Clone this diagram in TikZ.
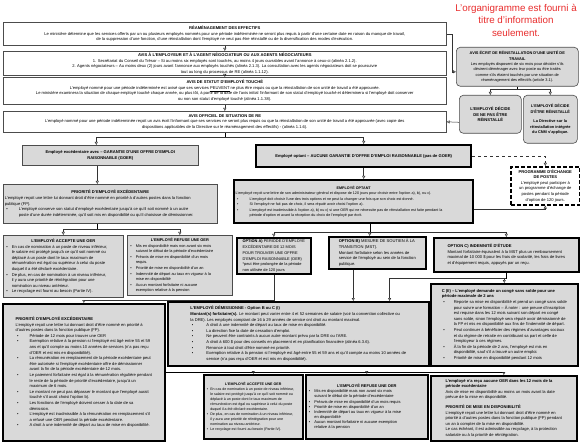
\documentclass[tikz,border=0pt]{standalone}
\usepackage{fontspec}
\setmainfont{Liberation Sans}
\usetikzlibrary{arrows.meta}
\definecolor{notered}{RGB}{232,44,44}
\newcommand{\fsz}[2]{\fontsize{#1}{#2}\selectfont}
\newcommand{\bul}[1][7]{\makebox[#1pt][l]{\hspace*{1.5pt}\textbullet}}
\newcommand{\cont}[1][7]{\hspace*{#1pt}}
\newcommand{\ttl}[2]{\makebox[#1pt][c]{\textbf{#2}}}

\begin{document}
\begin{tikzpicture}[x=1pt,y=-1pt]

\tikzset{box/.style = {draw=black!70, line width=0.6pt, anchor=north west, inner sep=1.5pt, align=center, font=\fsz{4.1}{5.6}}}
\tikzset{grey/.style = {box, fill=black!15}}
\tikzset{heavy/.style = {grey, draw=black, line width=1.6pt}}
\tikzset{heavier/.style = {grey, draw=black, line width=2.4pt}}
\tikzset{round/.style = {grey, rounded corners=4pt}}
\tikzset{edge/.style = {->, > = {Triangle[open, length=3pt, width=3pt]}, line width=0.5pt, draw=black!80}}
\useasboundingbox (0,0) rectangle (580,443);

%boxes
\node[text=notered, font=\fsz{9.8}{12.5}, align=center] (note) at (516,20) {L'organigramme est fourni à\\titre d'information\\seulement.};

\node[box, minimum width=443, minimum height=23] (reamen) at (3,22) {\textbf{RÉAMÉNAGEMENT DES EFFECTIFS}\\
Le ministère détermine que les services offerts par un ou plusieurs employés nommés pour une période indéterminée ne seront plus requis à partir d'une certaine date en raison du manque de travail,\\
de la suppression d'une fonction, d'une réinstallation dont l'employé ne veut pas être réinstallé ou de la diversification des modes d'exécution.};
\node[box, minimum width=443, minimum height=22] (avisemp) at (3,51) {\textbf{AVIS À L'EMPLOYEUR ET À L'AGENT NÉGOCIATEUR OU AUX AGENTS NÉGOCIATEURS}\\
1. Secrétariat du Conseil du Trésor – Si au moins six employés sont touchés, au moins 4 jours ouvrables avant l'annonce à ceux-ci (alinéa 2.1.2).\\
2. Agents négociateurs – Au moins deux (2) jours avant l'annonce aux employés touchés (alinéa 2.1.3). La consultation avec les agents négociateurs doit se poursuivre\\
tout au long du processus de RE (alinéa 1.1.12).};
\node[box, minimum width=443, minimum height=27] (statut) at (3,77) {\textbf{AVIS DE STATUT D'EMPLOYÉ TOUCHÉ}\\
L'employé nommé pour une période indéterminée est avisé que ses services \underline{PEUVENT} ne plus être requis ou que la réinstallation de son unité de travail a été approuvée.\\
Le ministère examinera la situation de chaque employé touché chaque année, ou plus tôt, à partir de la date de l'avis initial l'informant de son statut d'employé touché et déterminera si l'employé doit conserver\\
ou non son statut d'employé touché (alinéa 1.1.38).};
\node[box, minimum width=443, minimum height=21] (officiel) at (3,111) {\textbf{AVIS OFFICIEL DE SITUATION DE RE}\\
L'employé nommé pour une période indéterminée reçoit un avis écrit l'informant que ses services ne seront plus requis ou que la réinstallation de son unité de travail a été approuvée (avec copie des\\
dispositions applicables de la Directive sur le réaménagement des effectifs) - (alinéa 1.1.6).};

\node[round, font=\fsz{3.9}{5.4}, minimum width=122, minimum height=39] (ecrit) at (456,47) {\textbf{AVIS ÉCRIT DE RÉINSTALLATION D'UNE UNITÉ DE}\\\textbf{TRAVAIL}\\
Les employés disposent de six mois pour décider s'ils\\
désirent déménager avec leur poste ou être traités\\
comme s'ils étaient touchés par une situation de\\
réaménagement des effectifs (article 3.1).};
\node[round, minimum width=62, minimum height=38] (nepas) at (459,95) {\textbf{L'EMPLOYÉ DÉCIDE}\\\textbf{DE NE PAS ÊTRE}\\\textbf{RÉINSTALLÉ}};
\node[round, font=\fsz{3.9}{5.4}, minimum width=54, minimum height=48] (etre) at (523,95) {\textbf{L'EMPLOYÉ DÉCIDE}\\\textbf{D'ÊTRE RÉINSTALLÉ}\\[4pt]
\textbf{La Directive sur la}\\\textbf{réinstallation intégrée}\\\textbf{du CNM s'applique.}};

\node[grey, minimum width=176, minimum height=20] (goer) at (22,145) {\textbf{Employé excédentaire avec – GARANTIE D'UNE OFFRE D'EMPLOI}\\\textbf{RAISONNABLE (GOER)}};
\node[heavier, minimum width=215, minimum height=22] (aucune) at (255,144) {\textbf{Employé optant – AUCUNE GARANTIE D'OFFRE D'EMPLOI RAISONNABLE (pas de GOER)}};
\node[box, draw=black, line width=1.6pt, dash pattern=on 4pt off 2pt, minimum width=69, minimum height=38] (prog) at (510,166) {\textbf{PROGRAMME D'ÉCHANGE}\\\textbf{DE POSTES}\\
L'employé peut participer à\\un programme d'échange de\\postes pendant la période\\d'option de 120 jours.};

\node[heavier, align=left, font=\fsz{3.7}{5.5}, minimum width=239, minimum height=43] (optant) at (233,179) {\ttl{236}{EMPLOYÉ OPTANT}\\
L'employé reçoit une lettre de son administrateur général et dispose de 120 jours pour choisir entre l'option a), b), ou c).\\
\bul[14]L'employé doit choisir l'une des trois options et ne peut la changer une fois que son choix est donné.\\
\bul[14]Si l'employé ne fait pas de choix, il sera réputé avoir choisi l'option a).\\
\bul[14]L'employé est inadmissible à l'option a), b) ou c) si une OER qui ne nécessite pas de réinstallation est faite pendant la\\
\cont[14]période d'option et avant la réception du choix de l'employé par écrit.};

\node[grey, align=left, minimum width=214, minimum height=39] (prio) at (3,184) {\ttl{211}{PRIORITÉ D'EMPLOYÉ EXCÉDENTAIRE}\\
L'employé reçoit une lettre lui donnant droit d'être nommé en priorité à d'autres postes dans la fonction\\
publique (FP).\\
\bul[14]L'employé conserve son statut d'employé excédentaire jusqu'à ce qu'il soit nommé à un autre\\
\cont[14]poste d'une durée indéterminée, qu'il soit mis en disponibilité ou qu'il choisisse de démissionner.};

\node[grey, align=left, minimum width=120, minimum height=62] (acc1) at (3,235) {\ttl{117}{L'EMPLOYÉ ACCEPTE UNE OER}\\
\bul En cas de nomination à un poste de niveau inférieur,\\
\cont le salaire est protégé jusqu'à ce qu'il soit nommé ou\\
\cont déplacé à un poste dont le taux maximum de\\
\cont rémunération est égal ou supérieur à celui du poste\\
\cont duquel il a été déclaré excédentaire.\\
\bul De plus, en cas de nomination à un niveau inférieur,\\
\cont il y aura une priorité de réintégration pour une\\
\cont nomination au niveau antérieur.\\
\bul Le recyclage est fourni au besoin (Partie IV).};
\node[grey, align=left, font=\fsz{3.9}{5.6}, minimum width=105, minimum height=60] (ref1) at (127,235) {\ttl{102}{L'EMPLOYÉ REFUSE UNE OER}\\
\bul Mis en disponibilité mais non avant six mois\\
\cont suivant le début de la période d'excédentaire\\
\bul Préavis de mise en disponibilité d'un mois\\
\cont requis.\\
\bul Priorité de mise en disponibilité d'un an\\
\bul Indemnité de départ au taux en vigueur à la\\
\cont mise en disponibilité\\
\bul Aucun montant forfaitaire ni aucune\\
\cont exemption relative à la pension};

\node[heavy, align=left, font=\fsz{3.9}{5.8}, minimum width=74, minimum height=36] (optA) at (236,237) {\textbf{OPTION A)} PÉRIODE D'EMPLOYÉ\\
EXCÉDENTAIRE DE 12 MOIS\\
POUR TROUVER UNE OFFRE\\
D'EMPLOI RAISONNABLE (OER)\\
*peut être prolongée de la période\\
non utilisée de 120 jours};
\node[heavy, align=left, font=\fsz{4.1}{5.8}, minimum width=97, minimum height=32] (optB) at (328,236) {\textbf{OPTION B)} MESURE DE SOUTIEN À LA\\
TRANSITION (MST).\\
Montant forfaitaire selon les années de\\
service de l'employé au sein de la fonction\\
publique.};
\node[heavy, align=left, minimum width=145, minimum height=34] (optC) at (433,237) {\textbf{OPTION C) INDEMNITÉ D'ÉTUDE}\\
Montant forfaitaire équivalent à la MST plus un remboursement\\
maximal de 10 000 \$ pour les frais de scolarité, les frais de livres\\
et d'équipement requis, appuyés par un reçu.};

\node[heavy, align=left, minimum width=147, minimum height=82] (cii) at (430,283) {\textbf{C (II) – L'employé demande un congé sans solde pour une}\\
\textbf{période maximale de 2 ans}\\
\bul[12]Reporte sa mise en disponibilité et prend un congé sans solde\\
\cont[12]pour suivre une formation – À noter : une preuve d'inscription\\
\cont[12]est requise dans les 12 mois suivant son départ en congé\\
\cont[12]sans solde, sinon l'employé sera réputé avoir démissionné de\\
\cont[12]la FP et mis en disponibilité aux fins de l'indemnité de départ.\\
\bul[12]Peut continuer à bénéficier des régimes d'avantages sociaux\\
\cont[12]et du régime de retraite en contribuant sa part et celle de\\
\cont[12]l'employeur à ces régimes.\\
\bul[12]À la fin de la période de 2 ans, l'employé est mis en\\
\cont[12]disponibilité, sauf s'il a trouvé un autre emploi.\\
\bul[12]Priorité de mise en disponibilité pendant 12 mois};

\node[heavy, align=left, minimum width=261, minimum height=64] (demis) at (167,301) {\textbf{L'EMPLOYÉ DÉMISSIONNE - Option B ou C (I)}\\
\textbf{Montant(s) forfaitaire(s).} Le montant peut varier entre 4 et 52 semaines de salaire (voir la convention collective ou\\
la DRE). Les employés comptant de 16 à 29 années de service ont droit au montant maximal.\\
\bul[16]A droit à une indemnité de départ au taux de mise en disponibilité.\\
\bul[16]La direction fixe la date de cessation d'emploi.\\
\bul[16]Ne peuvent être contraints à aucun autre montant prévu par la DRE ou l'ARE.\\
\bul[16]A droit à 600 \$ pour des conseils en placement et en planification financière (alinéa 6.3.6).\\
\bul[16]Renonce à tout droit d'être nommé en priorité.\\
\bul[16]Exemption relative à la pension si l'employé est âgé entre 55 et 59 ans et qu'il compte au moins 10 années de\\
\cont[16]service (n'a pas reçu d'OER et est mis en disponibilité).};

\node[heavy, align=left, minimum width=162, minimum height=137] (prio2) at (2,303) {\textbf{PRIORITÉ D'EMPLOYÉ EXCÉDENTAIRE}\\
L'employé reçoit une lettre lui donnant droit d'être nommé en priorité à\\
d'autres postes dans la fonction publique (FP).\\
\bul[14]Période de 12 mois pour trouver une OER\\
\bul[14]Exemption relative à la pension si l'employé est âgé entre 55 et 59\\
\cont[14]ans et qu'il compte au moins 10 années de services (n'a pas reçu\\
\cont[14]d'OER et est mis en disponibilité).\\
\bul[14]La rémunération en remplacement de la période excédentaire peut\\
\cont[14]être autorisée si l'employé excédentaire offre de démissionner\\
\cont[14]avant la fin de la période excédentaire de 12 mois.\\
\bul[14]Le paiement forfaitaire est égal à la rémunération régulière pendant\\
\cont[14]le reste de la période de priorité d'excédentaire, jusqu'à un\\
\cont[14]maximum de 6 mois.\\
\bul[14]Le montant ne peut pas dépasser le montant que l'employé aurait\\
\cont[14]touché s'il avait choisi l'option b).\\
\bul[14]Les fonctions de l'employé doivent cesser à la date de sa\\
\cont[14]démission.\\
\bul[14]L'employé est inadmissible à la rémunération en remplacement s'il\\
\cont[14]a refusé une OER pendant la période excédentaire.\\
\bul[14]A droit à une indemnité de départ au taux de mise en disponibilité.};

\node[heavy, align=left, font=\fsz{3.6}{5.1}, minimum width=99, minimum height=64] (acc2) at (203,374) {\ttl{96}{L'EMPLOYÉ ACCEPTE UNE OER}\\
\bul[5]En cas de nomination à un poste de niveau inférieur,\\
\cont[5]le salaire est protégé jusqu'à ce qu'il soit nommé ou\\
\cont[5]déplacé à un poste dont le taux maximum de\\
\cont[5]rémunération est égal ou supérieur à celui du poste\\
\cont[5]duquel il a été déclaré excédentaire.\\
\bul[5]De plus, en cas de nomination à un niveau inférieur,\\
\cont[5]il y aura une priorité de réintégration pour une\\
\cont[5]nomination au niveau antérieur.\\
\bul[5]Le recyclage est fourni au besoin (Partie IV).};
\node[heavy, align=left, font=\fsz{4}{5.1}, minimum width=122, minimum height=64] (ref2) at (305,374) {\ttl{119}{L'EMPLOYÉ REFUSE UNE OER}\\
\bul Mis en disponibilité mais non avant six mois\\
\cont suivant le début de la période d'excédentaire\\
\bul Préavis de mise en disponibilité d'un mois requis\\
\bul Priorité de mise en disponibilité d'un an\\
\bul Indemnité de départ au taux en vigueur à la mise\\
\cont en disponibilité\\
\bul Aucun montant forfaitaire ni aucune exemption\\
\cont relative à la pension};
\node[heavy, align=left, minimum width=146, minimum height=65] (aucoer) at (430,375) {\textbf{L'employé n'a reçu aucune OER dans les 12 mois de la}\\
\textbf{période excédentaire}\\
Avis de mise en disponibilité au moins un mois avant la date\\
prévue de la mise en disponibilité.\\[4pt]
\textbf{PRIORITÉ DE MISE EN DISPONIBILITÉ}\\
L'employé reçoit une lettre lui donnant droit d'être nommé en\\
priorité à d'autres postes dans la fonction publique (FP) pendant\\
un an à compter de la mise en disponibilité.\\
Le cas échéant, il est admissible au recyclage, à la protection\\
salariale ou à la priorité de réintégration.};

%arrows
\draw [edge] (reamen) -- (avisemp);
\draw [edge] (avisemp) -- (statut);
\draw [edge] (statut) -- (officiel);
\draw (officiel.south) -- ++(0,5) coordinate (split1);
\draw [edge] (split1) -| ([xshift=-14pt]goer.north);
\draw [edge] (split1) -| (aucune.north);
\draw [edge] (reamen.east) -- ++(6,0) |- ([yshift=-5pt]ecrit.west);
\draw (ecrit.south) -- ++(0,3) coordinate (split7);
\draw [edge] (split7) -| (nepas.north);
\draw [edge] (split7) -| (etre.north);
\draw [edge] ([yshift=-8pt]nepas.west) -- (officiel.east);
\draw [edge] ([xshift=-13pt]goer.south) -- ([xshift=-13pt]prio.north);
\draw ([xshift=-13pt]prio.south) -- ++(0,6) coordinate (split2);
\draw [edge] (split2) -| (acc1.north);
\draw [edge] (split2) -| (ref1.north);
\draw [edge, dashed] (aucune.east) -| (prog.north);
\draw [edge] (aucune.south) -- (aucune.south |- optant.north);
\draw [edge] ([yshift=-8pt]optant.east) -| (prog.south);
\draw ([xshift=16pt]optant.south) -- ++(0,8) coordinate (split3);
\draw [edge] (split3) -| (optA.north);
\draw [edge] (split3) -- (split3 |- optB.north);
\draw [edge] (split3) -| (optC.north);
\draw [edge] (optA.south) -- ++(0,25) -| (prio2.north);
\draw [edge] ([xshift=-24pt]optB.south) -- ([xshift=-24pt]optB.south |- demis.north);
\draw (optC.south) -- ++(0,6) coordinate (split5);
\draw [edge] (split5) -| (cii.north);
\draw [edge] (split5) -| ([xshift=-40pt]demis.north east);
\draw (prio2.east) -- (prio2.east -| aucoer.north) coordinate (split6);
\draw [edge] (split6) -- (aucoer.north);
\draw [edge] (prio2.east -| acc2.north) -- (acc2.north);
\draw [edge] (prio2.east -| ref2.north) -- (ref2.north);

\end{tikzpicture}
\end{document}
